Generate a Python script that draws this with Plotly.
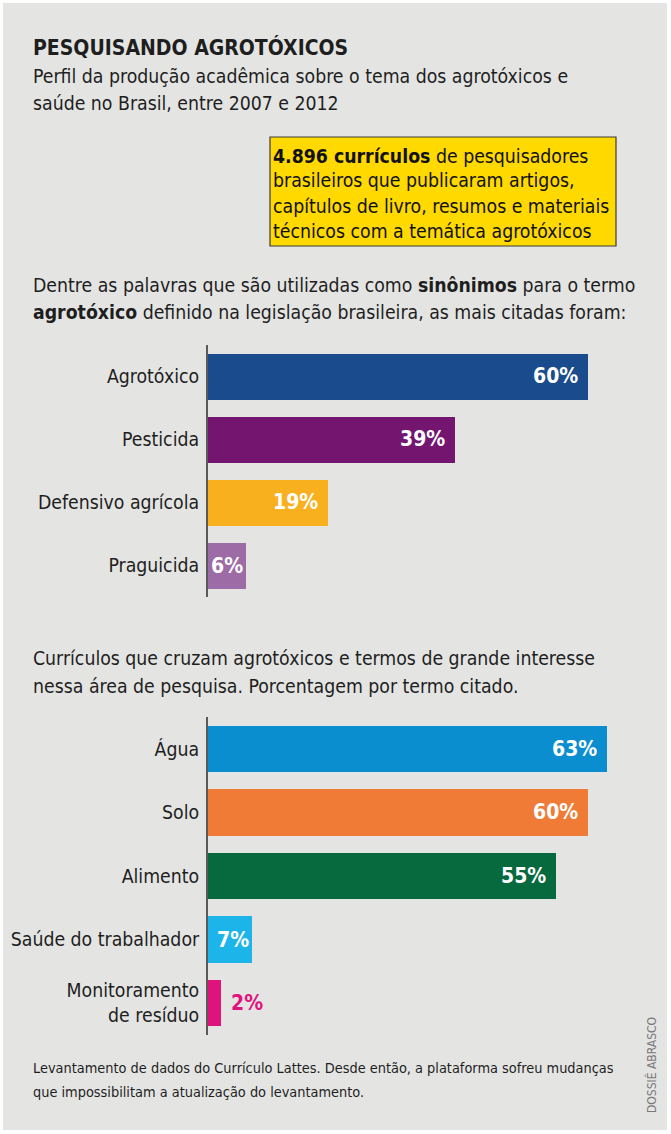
import plotly.graph_objects as go

W, H = 671, 1134
FONT = "DejaVu Sans Condensed, Liberation Sans Narrow, sans-serif"
TXT = "#1e1e1e"
FS = 19.3

# ---- data ----
syn_labels = ["Agrotóxico", "Pesticida", "Defensivo agrícola", "Praguicida"]
syn_values = [60, 39, 19, 6]
syn_colors = ["#1a4b8c", "#74166f", "#f8b01e", "#9d6ca6"]

term_labels = ["Água", "Solo", "Alimento", "Saúde do trabalhador", "Monitoramento<br>de resíduo"]
term_values = [63, 60, 55, 7, 2]
term_colors = ["#0b8ecf", "#f07b37", "#07693e", "#1db4ea", "#e0137e"]


def px(x):
    return x / W


def py(y):
    return 1 - y / H


fig = go.Figure()

fig.add_trace(go.Bar(
    y=list(range(len(syn_labels))), x=syn_values, orientation="h",
    marker=dict(color=syn_colors, line=dict(width=0)), width=0.73,
    xaxis="x", yaxis="y", hoverinfo="skip", showlegend=False,
))
fig.add_trace(go.Bar(
    y=list(range(len(term_labels))), x=term_values, orientation="h",
    marker=dict(color=term_colors, line=dict(width=0)), width=0.73,
    xaxis="x2", yaxis="y2", hoverinfo="skip", showlegend=False,
))

XR = [0, (660 - 208) / 6.333]

ann = []
# value labels
for i, v in enumerate(syn_values):
    ann.append(dict(x=v, y=i, xref="x", yref="y", text=f"<b>{v}%</b>", showarrow=False,
                    xanchor="right", xshift=-8 if v >= 10 else -1,
                    font=dict(family=FONT, size=21, color="white")))
for i, v in enumerate(term_values):
    if v >= 5:
        ann.append(dict(x=v, y=i, xref="x2", yref="y2", text=f"<b>{v}%</b>", showarrow=False,
                        xanchor="right", xshift=-8 if v >= 10 else -1,
                        font=dict(family=FONT, size=21, color="white")))
    else:
        ann.append(dict(x=v, y=i, xref="x2", yref="y2", text=f"<b>{v}%</b>", showarrow=False,
                        xanchor="left", xshift=8, font=dict(family=FONT, size=21, color=term_colors[i])))


def text(x, y, s, size=FS, color=TXT, **kw):
    d = dict(x=px(x), y=py(y), xref="paper", yref="paper", text=s, showarrow=False,
             xanchor="left", yanchor="middle", font=dict(family=FONT, size=size, color=color))
    d.update(kw)
    ann.append(d)


text(31, 47, "<b>PESQUISANDO AGROTÓXICOS</b>", size=21)
text(31, 76, "Perfil da produção acadêmica sobre o tema dos agrotóxicos e")
text(31, 103, "saúde no Brasil, entre 2007 e 2012")

text(271, 156, "<b>4.896 currículos</b> de pesquisadores", color="#111")
text(271, 181, "brasileiros que publicaram artigos,", color="#111")
text(271, 206, "capítulos de livro, resumos e materiais", color="#111")
text(271, 231, "técnicos com a temática agrotóxicos", color="#111")

text(31, 285, "Dentre as palavras que são utilizadas como <b>sinônimos</b> para o termo")
text(31, 313, "<b>agrotóxico</b> definido na legislação brasileira, as mais citadas foram:")

text(31, 658, "Currículos que cruzam agrotóxicos e termos de grande interesse")
text(31, 686, "nessa área de pesquisa. Porcentagem por termo citado.")

text(31, 1068, "Levantamento de dados do Currículo Lattes. Desde então, a plataforma sofreu mudanças", size=14.4)
text(31, 1092, "que impossibilitam a atualização do levantamento.", size=14.4)

text(651, 1065, "DOSSIÊ ABRASCO", size=12, color="#7a7a7a", xanchor="center", textangle=-90)

shapes = [
    dict(type="rect", xref="paper", yref="paper", x0=px(3), x1=px(667), y0=py(3), y1=py(1130),
         fillcolor="#e4e5e3", line=dict(width=0), layer="below"),
    dict(type="rect", xref="paper", yref="paper", x0=px(270), x1=px(616), y0=py(137), y1=py(246),
         fillcolor="#ffd900", line=dict(width=1.2, color="#3a3a3a"), layer="below"),
]

yax_common = dict(showgrid=False, zeroline=False, showline=True, linecolor="#5a5a5a", linewidth=2,
                  ticks="", tickfont=dict(family=FONT, size=FS, color=TXT), ticklabelstandoff=3,
                  fixedrange=True)
xax_common = dict(showgrid=False, zeroline=False, showline=False, showticklabels=False, ticks="",
                  range=XR, domain=[px(208), px(660)], fixedrange=True)

fig.update_layout(
    width=W, height=H, margin=dict(l=0, r=0, t=0, b=0),
    paper_bgcolor="white", plot_bgcolor="rgba(0,0,0,0)",
    bargap=0,
    xaxis=dict(**xax_common, anchor="y"),
    yaxis=dict(**yax_common, domain=[py(597), py(345)], range=[len(syn_labels) - 0.5, -0.5],
               tickvals=list(range(len(syn_labels))), ticktext=syn_labels, anchor="x"),
    xaxis2=dict(**xax_common, anchor="y2"),
    yaxis2=dict(**yax_common, domain=[py(1035), py(717)], range=[len(term_labels) - 0.5, -0.5],
                tickvals=list(range(len(term_labels))), ticktext=term_labels, anchor="x2"),
    annotations=ann, shapes=shapes,
)

fig.write_html("out.html", config={"displayModeBar": False},
               post_script="document.body.style.margin='0';document.body.style.overflow='hidden';")
